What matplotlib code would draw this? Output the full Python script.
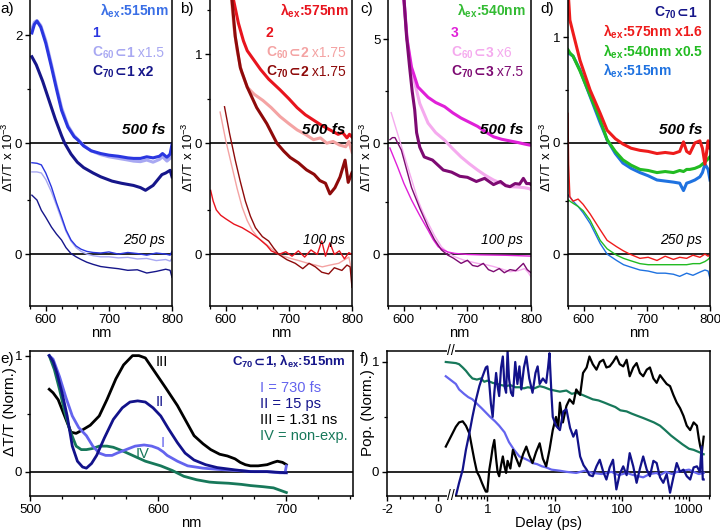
import numpy as np
import matplotlib
matplotlib.use("Agg")
import matplotlib.pyplot as plt
from matplotlib.ticker import FixedLocator, FixedFormatter, MultipleLocator

plt.rcParams["font.family"] = ["Liberation Sans", "DejaVu Sans"]
plt.rcParams["mathtext.default"] = "regular"
plt.rcParams["axes.linewidth"] = 1.1
plt.rcParams["font.size"] = 10

W, H = 720, 532

# ---------------- panel a: lambda_ex 515 nm, compound 1 ----------------
a_fs_nm = [578, 582, 586, 592, 600, 609, 617, 625, 635, 645, 651, 660, 672, 687, 700,
           715, 730, 739, 750, 760, 770, 780, 785, 792, 797, 800]
a_fs_1 = [2.04, 2.2, 2.26, 2.15, 1.85, 1.41, 1.0, 0.61, 0.3, 0.12, 0.06, -0.05, -0.14, -0.19, -0.22,
          -0.24, -0.27, -0.28, -0.28, -0.25, -0.27, -0.24, -0.19, -0.26, -0.2, -0.02]
a_fs_c60 = [2.12, 2.24, 2.27, 2.18, 1.9, 1.46, 1.05, 0.66, 0.33, 0.14, 0.07, -0.04, -0.14, -0.21, -0.25,
            -0.28, -0.31, -0.33, -0.34, -0.31, -0.35, -0.3, -0.25, -0.33, -0.28, -0.1]
a_fs_c70_nm = [578, 585, 595, 605, 615, 625, 630, 640, 650, 660, 675, 687, 705, 720, 739,
               750, 758, 770, 784, 790, 797, 800]
a_fs_c70 = [1.6, 1.45, 1.15, 0.8, 0.45, 0.14, 0.0, -0.2, -0.35, -0.45, -0.55, -0.62, -0.7, -0.74, -0.78,
            -0.82, -0.87, -0.78, -0.58, -0.55, -0.5, -0.62]
a_ps_nm = [578, 586, 593, 600, 609, 617, 625, 632, 640, 648, 656, 665, 675, 687, 700,
           715, 730, 745, 760, 775, 790, 797, 800]
a_ps_1 = [1.69, 1.68, 1.65, 1.5, 1.24, 0.95, 0.69, 0.45, 0.26, 0.15, 0.09, 0.05, 0.03, 0.02, 0.04,
          0.0, 0.03, 0.01, -0.02, 0.02, 0.0, -0.02, 0.05]
a_ps_c60 = [1.52, 1.52, 1.5, 1.38, 1.15, 0.9, 0.64, 0.42, 0.24, 0.12, 0.05, 0.0, -0.03, -0.05, -0.05,
            -0.07, -0.06, -0.09, -0.08, -0.12, -0.1, -0.13, -0.08]
a_ps_c70 = [1.09, 1.0, 0.81, 0.68, 0.5, 0.37, 0.26, 0.12, 0.01, -0.05, -0.1, -0.15, -0.19, -0.23, -0.25,
            -0.27, -0.3, -0.29, -0.35, -0.32, -0.28, -0.3, -0.43]

# ---------------- panel b: lambda_ex 575 nm, compound 2 ----------------
b_fs_2_nm = [612, 620, 628, 634, 643, 655, 668, 686, 700, 713, 726, 739, 752, 765, 778, 785, 792, 796, 800]
b_fs_2 = [1.62, 1.35, 1.15, 1.04, 0.95, 0.83, 0.72, 0.6, 0.5, 0.4, 0.32, 0.26, 0.2, 0.15, 0.1, 0.12, 0.06, 0.1, 0.07]
b_fs_c60_nm = [609, 613, 618, 625, 634, 645, 659, 672, 686, 700, 713, 726, 739, 750, 760, 770, 780, 790, 795, 800]
b_fs_c60 = [1.62, 1.3, 1.04, 0.8, 0.63, 0.55, 0.48, 0.4, 0.3, 0.22, 0.15, 0.1, 0.04, 0.06, 0.0, 0.02, -0.02, -0.04, 0.02, -0.1]
b_fs_c70_nm = [610, 615, 623, 634, 649, 665, 681, 692, 702, 715, 728, 740, 749, 758, 765, 773, 781, 789, 794, 800]
b_fs_c70 = [1.6, 1.2, 0.85, 0.63, 0.4, 0.22, 0.0, -0.09, -0.16, -0.22, -0.3, -0.35, -0.42, -0.45, -0.57, -0.5, -0.38, -0.19, -0.44, -0.33]
b_ps_2_nm = [576, 580, 585, 592, 600, 613, 626, 640, 652, 665, 672, 684, 695, 705, 715, 725, 735,
             745, 752, 758, 765, 772, 780, 788, 795, 800]
b_ps_2 = [0.72, 0.6, 0.5, 0.44, 0.4, 0.34, 0.3, 0.24, 0.18, 0.1, 0.04, 0.0, 0.03, -0.02, 0.04, -0.03, 0.05,
          0.0, 0.15, -0.02, 0.13, 0.0, 0.04, -0.05, 0.02, 0.0]
b_ps_c60_nm = [591, 600, 610, 618, 626, 634, 642, 652, 663, 673, 684, 700, 716, 730, 742, 753, 765, 779, 788, 795, 800]
b_ps_c60 = [1.6, 1.28, 0.98, 0.74, 0.53, 0.38, 0.27, 0.18, 0.12, 0.06, 0.0, -0.04, -0.07, -0.1, -0.12, -0.14, -0.12, -0.1, -0.06, -0.03, -0.2]
b_ps_c70_nm = [598, 606, 615, 623, 631, 639, 647, 658, 668, 676, 684, 697, 710, 722, 732, 742, 752, 763, 772, 784, 792, 797, 800]
b_ps_c70 = [1.66, 1.36, 1.06, 0.82, 0.6, 0.43, 0.3, 0.2, 0.15, 0.07, 0.0, -0.06, -0.1, -0.16, -0.1, -0.14, -0.2, -0.22, -0.15, -0.18, -0.12, -0.14, -0.37]

# ---------------- panel c: lambda_ex 540 nm, compound 3 ----------------
c_fs_3_nm = [600, 605, 612, 622, 638, 650, 664, 677, 690, 703, 716, 728, 741, 754, 767, 780, 790, 798, 800]
c_fs_3 = [7.0, 5.0, 3.65, 2.7, 2.2, 1.95, 1.75, 1.45, 1.2, 1.0, 0.8, 0.55, 0.3, 0.18, 0.1, 0.02, -0.05, -0.1, -0.1]
c_fs_c60_nm = [599, 605, 610, 617, 625, 638, 650, 664, 677, 690, 703, 716, 728, 741, 754, 767, 780, 790, 798, 800]
c_fs_c60 = [7.0, 5.0, 3.8, 2.9, 1.9, 0.96, 0.5, 0.14, -0.28, -0.67, -1.0, -1.3, -1.55, -1.78, -1.95, -2.1, -2.12, -2.15, -2.2, -2.25]
c_fs_c70_nm = [600, 604, 609, 613, 617, 620, 625, 632, 645, 662, 675, 688, 700, 714, 727, 741, 752, 760, 767, 775, 782, 788, 793, 798, 800]
c_fs_c70 = [7.0, 5.2, 3.65, 2.5, 1.6, 0.5, -0.2, -0.67, -0.82, -1.3, -1.4, -1.6, -1.65, -1.85, -1.7, -2.0, -1.85, -2.05, -2.1, -1.95, -1.98, -1.7, -1.95, -1.95, -2.0]
c_ps_3_nm = [578, 590, 600, 612, 625, 638, 646, 654, 662, 669, 680, 700, 720, 740, 760, 780, 800]
c_ps_3 = [5.1, 4.2, 3.4, 2.6, 1.85, 1.15, 0.7, 0.35, 0.2, 0.1, 0.03, -0.02, -0.04, -0.05, -0.06, -0.08, -0.1]
c_ps_c60_nm = [580, 590, 601, 612, 622, 630, 638, 648, 659, 670, 680, 695, 716, 730, 741, 754, 767, 780, 790, 796, 800]
c_ps_c60 = [6.8, 5.8, 4.7, 3.6, 2.6, 2.0, 1.5, 0.9, 0.35, 0.05, -0.13, -0.3, -0.45, -0.52, -0.6, -0.72, -0.85, -0.8, -0.7, -0.9, -1.1]
c_ps_c70_nm = [578, 582, 586, 596, 604, 612, 625, 638, 648, 659, 669, 678, 690, 700, 708, 716, 725, 733, 741, 750, 758, 767, 776, 788, 794, 800]
c_ps_c70 = [5.5, 5.6, 5.6, 5.0, 4.1, 3.2, 2.2, 1.3, 0.7, 0.2, -0.05, -0.2, -0.45, -0.3, -0.55, -0.6, -0.45, -0.75, -0.85, -0.7, -0.9, -0.75, -0.8, -0.45, -0.75, -0.9]

# ---------------- panel d: C70 in 1 at three excitation wavelengths ----------------
d_fs_nm = [575, 578, 583, 594, 610, 626, 637, 650, 662, 675, 689, 702, 716, 729, 742, 752, 758, 763, 768, 776, 784, 788, 792, 797, 800]
d_fs_575 = [1.45, 1.16, 1.04, 0.78, 0.5, 0.28, 0.12, 0.04, -0.01, -0.05, -0.07, -0.08, -0.1, -0.09, -0.1, -0.08, 0.01, -0.08, -0.1, 0.0, 0.02, -0.05, -0.2, 0.02, -0.05]
d_fs_540 = [0.88, 0.85, 0.82, 0.68, 0.45, 0.22, 0.03, -0.08, -0.16, -0.21, -0.25, -0.26, -0.28, -0.27, -0.28, -0.26, -0.27, -0.25, -0.25, -0.24, -0.22, -0.2, -0.18, -0.15, -0.13]
d_fs_515 = [0.85, 0.84, 0.82, 0.69, 0.44, 0.19, 0.03, -0.1, -0.19, -0.24, -0.28, -0.31, -0.35, -0.36, -0.37, -0.38, -0.45, -0.38, -0.37, -0.35, -0.32, -0.28, -0.2, -0.25, -0.35]
d_ps_nm = [575, 576, 578, 583, 591, 599, 610, 626, 637, 652, 663, 673, 689, 702, 716, 729, 742, 752, 763, 773, 784, 792, 797, 800]
d_ps_575 = [1.33, 0.85, 0.54, 0.5, 0.52, 0.47, 0.38, 0.23, 0.13, 0.07, 0.03, 0.0, -0.04, -0.03, -0.06, -0.02, -0.05, -0.03, -0.04, -0.01, -0.03, 0.0, -0.02, 0.0]
d_ps_540 = [0.51, 0.51, 0.5, 0.48, 0.45, 0.41, 0.32, 0.13, 0.05, -0.01, -0.04, -0.06, -0.09, -0.1, -0.1, -0.1, -0.1, -0.1, -0.1, -0.09, -0.09, -0.07, -0.05, -0.03]
d_ps_515 = [0.56, 0.55, 0.54, 0.5, 0.45, 0.39, 0.29, 0.1, 0.0, -0.06, -0.1, -0.12, -0.15, -0.16, -0.18, -0.18, -0.19, -0.21, -0.18, -0.2, -0.17, -0.15, -0.16, -0.23]

# ---------------- panel e: decay-associated spectra ----------------
e_I_nm = [515, 518, 523, 528, 533, 538, 544, 549, 554, 559, 564, 568, 575, 582, 589,
          595, 600, 604, 607, 615, 623, 635, 646, 660, 675, 685, 695, 699, 700]
e_I = [1.0, 0.97, 0.82, 0.64, 0.48, 0.38, 0.31, 0.22, 0.16, 0.14, 0.14, 0.16, 0.19, 0.22, 0.23,
       0.22, 0.2, 0.17, 0.14, 0.09, 0.05, 0.03, 0.02, 0.01, 0.0, 0.0, -0.01, -0.01, 0.05]
e_II_nm = [515, 518, 521, 525, 529, 533, 537, 541, 544, 548, 552, 558, 565, 572, 578,
           584, 590, 596, 602, 608, 615, 621, 628, 637, 646, 660, 672, 685, 700]
e_II = [1.0, 0.95, 0.85, 0.68, 0.48, 0.22, 0.09, 0.04, 0.03, 0.07, 0.14, 0.29, 0.45, 0.55, 0.6,
        0.61, 0.6, 0.55, 0.48, 0.37, 0.25, 0.16, 0.1, 0.06, 0.035, 0.015, 0.0, 0.0, -0.01]
e_III_nm = [515, 518, 522, 527, 532, 536, 541, 547, 554, 560, 567, 573, 580, 585, 590, 598, 606,
            615, 622, 628, 635, 641, 648, 654, 660, 664, 668, 672, 678, 685, 690, 693, 697, 700]
e_III = [0.71, 0.68, 0.62, 0.48, 0.34, 0.33, 0.36, 0.4, 0.48, 0.62, 0.8, 0.92, 1.0, 1.0, 0.98, 0.85, 0.72,
         0.57, 0.43, 0.31, 0.24, 0.19, 0.15, 0.135, 0.11, 0.08, 0.06, 0.05, 0.05, 0.06, 0.08, 0.09, 0.08, 0.06]
e_IV_nm = [515, 519, 523, 527, 531, 536, 540, 544, 549, 554, 560, 565, 572, 581, 590,
           602, 611, 620, 630, 640, 646, 655, 665, 672, 682, 690, 695, 700]
e_IV = [1.0, 0.88, 0.71, 0.52, 0.36, 0.22, 0.19, 0.19, 0.2, 0.22, 0.22, 0.21, 0.18, 0.135, 0.09,
        0.05, 0.01, -0.04, -0.07, -0.09, -0.095, -0.1, -0.11, -0.12, -0.13, -0.14, -0.16, -0.18]

# ---------------- panel f: populations vs delay ----------------
f_I_t = [0.30, 0.34, 0.38, 0.45, 0.52, 0.60, 0.70, 0.82, 0.95, 1.1,
         1.3, 1.5, 1.8, 2.1, 2.5, 3.0, 3.6, 4.2, 4.7, 5.5,
         6.5, 7.5, 9, 12, 15, 21, 28, 37, 50, 70,
         90, 118, 150, 208, 260, 330, 370, 450, 560, 660,
         800, 1000, 1170, 1400, 1650]
f_I = [0.87, 0.8, 0.75, 0.71, 0.68, 0.66, 0.62, 0.58, 0.54, 0.5,
       0.46, 0.42, 0.36, 0.27, 0.2, 0.14, 0.12, 0.1, 0.08, 0.07,
       0.05, 0.04, 0.02, 0.01, 0.0, -0.01, 0.01, -0.01, -0.02, 0.0,
       -0.03, -0.01, -0.03, -0.05, -0.02, -0.01, -0.03, 0.0, -0.02, 0.0,
       0.01, 0.02, 0.0, -0.02, -0.01]
f_II_t = [0.34, 0.38, 0.43, 0.48, 0.54, 0.6, 0.68, 0.76, 0.85, 0.95,
          1.0, 1.07, 1.13, 1.2, 1.27, 1.35, 1.42, 1.5, 1.6, 1.7,
          1.8, 1.9, 2.0, 2.1, 2.25, 2.4, 2.6, 2.8, 3.0, 3.2,
          3.5, 3.8, 4.2, 4.7, 5.2, 5.6, 6.0, 6.7, 7.5, 8.0,
          8.4, 9.0, 9.4, 10.5, 12, 13.5, 15, 17, 19, 21,
          24, 27, 30, 33, 37, 42, 47, 53, 59, 66,
          74, 83, 93, 105, 118, 131, 148, 166, 186, 208,
          235, 262, 295, 330, 370, 414, 465, 522, 585, 656,
          735, 826, 925, 1040, 1170, 1310, 1450, 1540, 1600, 1650]
f_II = [-0.22, -0.1, 0.02, 0.2, 0.35, 0.5, 0.66, 0.78, 0.87, 0.95,
        0.96, 0.8, 0.62, 0.5, 0.72, 0.9, 0.78, 0.69, 0.95, 1.05,
        0.78, 0.72, 1.1, 0.85, 0.72, 0.69, 1.0, 0.8, 0.96, 0.75,
        0.95, 1.05, 0.85, 0.72, 0.9, 0.96, 0.8, 0.85, 0.81, 0.95,
        1.08, 0.7, 0.5, 0.42, 0.38, 0.55, 0.57, 0.4, 0.32, 0.38,
        0.14, 0.06, 0.02, -0.03, -0.04, 0.05, 0.11, 0.0, -0.07, 0.04,
        0.11, -0.16, -0.02, 0.05, -0.03, 0.17, 0.05, -0.1, 0.03, 0.14,
        0.02, -0.04, 0.1, 0.08, -0.05, -0.1, -0.02, -0.19, -0.05, 0.08,
        0.0, 0.02, -0.04, -0.07, 0.04, 0.05, 0.0, 0.23, -0.07, -0.07]
f_III_t = [0.3, 0.34, 0.38, 0.43, 0.48, 0.54, 0.6, 0.64, 0.7, 0.76,
           0.83, 0.9, 0.95, 1.0, 1.07, 1.13, 1.2, 1.27, 1.35, 1.42,
           1.5, 1.6, 1.7, 1.8, 1.9, 2.0, 2.2, 2.4, 2.7, 3.0,
           3.4, 3.8, 4.2, 4.7, 5.3, 6.0, 6.7, 7.5, 8.4, 9.4,
           10.5, 11.3, 12, 13.3, 15, 16.7, 19, 21, 24, 26.5,
           30, 33, 37, 42, 47, 53, 59, 66, 74, 83,
           93, 105, 118, 131, 148, 166, 186, 208, 235, 262,
           295, 330, 370, 414, 465, 522, 585, 656, 735, 826,
           925, 1040, 1170, 1310, 1400, 1470, 1550, 1650]
f_III = [0.23, 0.41, 0.45, 0.46, 0.42, 0.35, 0.2, 0.11, 0.0, -0.04,
         -0.1, -0.15, -0.18, -0.18, 0.02, 0.11, 0.22, 0.29, 0.12, 0.0,
         -0.04, 0.06, 0.14, 0.05, -0.01, 0.1, 0.03, 0.2, 0.12, 0.05,
         0.16, 0.23, 0.15, 0.08, 0.18, 0.26, 0.12, 0.05, 0.2, 0.38,
         0.5, 0.4, 0.63, 0.45, 0.6, 0.66, 0.62, 0.75, 0.7, 0.9,
         0.95, 1.05, 0.98, 0.93, 1.0, 1.02, 0.95, 0.96, 1.0, 1.05,
         0.98, 0.96, 1.02, 0.87, 0.95, 0.99, 0.9, 0.87, 0.93, 0.95,
         0.85, 0.81, 0.88, 0.84, 0.8, 0.78, 0.7, 0.63, 0.58, 0.51,
         0.42, 0.38, 0.45, 0.42, 0.3, 0.23, 0.18, 0.32]
f_IV_t = [0.3, 0.34, 0.38, 0.43, 0.48, 0.54, 0.6, 0.7, 0.8, 0.9,
          1.0, 1.2, 1.4, 1.6, 1.9, 2.2, 2.6, 3.0, 3.5, 4.0,
          5.0, 6.0, 7.0, 8.5, 10, 12, 15, 18, 21, 26,
          31, 37, 45, 55, 66, 80, 95, 118, 140, 170,
          208, 250, 300, 370, 440, 540, 656, 800, 1000, 1170,
          1400, 1650]
f_IV = [1.0, 0.99, 0.98, 0.95, 0.92, 0.88, 0.85, 0.84, 0.85, 0.82,
        0.83, 0.81, 0.8, 0.79, 0.78, 0.79, 0.77, 0.77, 0.76, 0.77,
        0.76, 0.78, 0.77, 0.75, 0.74, 0.73, 0.74, 0.71, 0.72, 0.7,
        0.68, 0.66, 0.65, 0.63, 0.61, 0.59, 0.56, 0.55, 0.53, 0.51,
        0.49, 0.47, 0.45, 0.42, 0.38, 0.33, 0.29, 0.25, 0.21, 0.2,
        0.18, 0.16]

# colours
BLUE1, LAV, NAVY = "#2a36e0", "#a8a8f2", "#16168a"
RED2, PINK2, DRED2 = "#e8141e", "#f4a3a3", "#8e0a0a"
MAG3, LPINK3, PURP3 = "#e020d8", "#f5aaee", "#7d0a72"
RED_D, GREEN_D, BLUE_D = "#ee1c1c", "#22bb22", "#1f72e0"
E_I, E_II, E_III, E_IV = "#6464ee", "#12128a", "black", "#17785a"

fig = plt.figure(figsize=(W / 100, H / 100), dpi=100)


def add_axes(x0, x1, y0, y1):
    return fig.add_axes([x0 / W, 1 - y1 / H, (x1 - x0) / W, (y1 - y0) / H])


def ftext(x, y, s, **kw):
    kw.setdefault("va", "baseline")
    return fig.text(x / W, 1 - y / H, s, **kw)


def chain(x, y, parts, size=10):
    # parts: (text, colour, weight) drawn one after another on one baseline
    r = fig.canvas.get_renderer()
    for s, c, w in parts:
        t = ftext(x, y, s, color=c, weight=w, size=size)
        x += t.get_window_extent(r).width


def style_axes(ax):
    ax.tick_params(direction="out", length=3.5, width=1, labelsize=9.5, pad=2)
    ax.tick_params(which="minor", direction="out", length=2, width=0.9)


def spectra(ax, offset, ylim, top_tick, minors):
    ax.set_xlim(575, 800)
    ax.set_ylim(*ylim)
    ax.axhline(0, color="black", lw=1.2)
    ax.axhline(-offset, color="black", lw=1.2)
    ax.xaxis.set_major_locator(FixedLocator([600, 700, 800]))
    ax.xaxis.set_minor_locator(MultipleLocator(25))
    ax.yaxis.set_major_locator(FixedLocator([-offset, 0, top_tick]))
    ax.yaxis.set_major_formatter(FixedFormatter(["0", "0", f"{top_tick:g}"]))
    ax.yaxis.set_minor_locator(FixedLocator(minors))
    ax.spines["top"].set_visible(False)
    ax.set_xlabel("nm", size=10.5, labelpad=0)
    style_axes(ax)


THICK, THIN = 2.2, 1.0

# ---- a ----
ax = add_axes(30, 172, 0, 306)
off = 2.05
spectra(ax, off, (-3.01, 2.65), 2, [1, 1 - off])
ax.plot(a_fs_nm, a_fs_c60, color=LAV, lw=THICK)
ax.plot(a_fs_nm, a_fs_1, color=BLUE1, lw=THICK)
ax.plot(a_fs_c70_nm, a_fs_c70, color=NAVY, lw=THICK)
ax.plot(a_ps_nm, np.array(a_ps_c60) - off, color=LAV, lw=THIN)
ax.plot(a_ps_nm, np.array(a_ps_1) - off, color=BLUE1, lw=THIN)
ax.plot(a_ps_nm, np.array(a_ps_c70) - off, color=NAVY, lw=THIN)

# ---- b ----
ax = add_axes(210, 352, 0, 306)
off = 1.25
spectra(ax, off, (-1.83, 1.61), 1, [1.5, 0.5, 0.5 - off])
ax.plot(b_fs_c60_nm, b_fs_c60, color=PINK2, lw=THICK)
ax.plot(b_fs_2_nm, b_fs_2, color=RED2, lw=THICK)
ax.plot(b_fs_c70_nm, b_fs_c70, color=DRED2, lw=THICK)
ax.plot(b_ps_c60_nm, np.array(b_ps_c60) - off, color=PINK2, lw=THIN)
ax.plot(b_ps_2_nm, np.array(b_ps_2) - off, color=RED2, lw=THIN)
ax.plot(b_ps_c70_nm, np.array(b_ps_c70) - off, color=DRED2, lw=THIN)

# ---- c ----
ax = add_axes(388, 531, 0, 306)
off = 5.34
spectra(ax, off, (-7.84, 6.88), 5, [2.5, 2.5 - off])
ax.plot(c_fs_c60_nm, c_fs_c60, color=LPINK3, lw=THICK)
ax.plot(c_fs_3_nm, c_fs_3, color=MAG3, lw=THICK)
ax.plot(c_fs_c70_nm, c_fs_c70, color=PURP3, lw=THICK)
ax.plot(c_ps_c60_nm, np.array(c_ps_c60) - off, color=LPINK3, lw=THIN)
ax.plot(c_ps_3_nm, np.array(c_ps_3) - off, color=MAG3, lw=THIN)
ax.plot(c_ps_c70_nm, np.array(c_ps_c70) - off, color=PURP3, lw=THIN)

# ---- d ----
ax = add_axes(568, 710, 0, 306)
off = 1.05
spectra(ax, off, (-1.54, 1.35), 1, [0.5, 0.5 - off])
ax.plot(d_fs_nm, d_fs_515, color=BLUE_D, lw=THICK)
ax.plot(d_fs_nm, d_fs_540, color=GREEN_D, lw=THICK)
ax.plot(d_fs_nm, d_fs_575, color=RED_D, lw=THICK)
ax.plot(d_ps_nm, np.array(d_ps_515) - off, color=BLUE_D, lw=THIN)
ax.plot(d_ps_nm, np.array(d_ps_540) - off, color=GREEN_D, lw=THIN)
ax.plot(d_ps_nm, np.array(d_ps_575) - off, color=RED_D, lw=THIN)

# ---- e ----
ax = add_axes(30, 353, 351, 496)
ax.set_xlim(500, 752)
ax.set_ylim(-0.21, 1.04)
ax.axhline(0, color="black", lw=1.2)
ax.plot(e_III_nm, e_III, color=E_III, lw=2)
ax.plot(e_IV_nm, e_IV, color=E_IV, lw=2)
ax.plot(e_I_nm, e_I, color=E_I, lw=2)
ax.plot(e_II_nm, e_II, color=E_II, lw=2)
ax.xaxis.set_major_locator(FixedLocator([500, 600, 700]))
ax.xaxis.set_minor_locator(MultipleLocator(25))
ax.yaxis.set_major_locator(FixedLocator([0, 1]))
ax.yaxis.set_minor_locator(FixedLocator([0.5]))
ax.set_xlabel("nm", size=10.5, labelpad=0)
style_axes(ax)

# ---- f: linear up to the break, log after it ----
BRK, GAP, DEC = 0.3, 0.25, 2.63


def fwd(t):
    t = np.asarray(t, float)
    return np.where(t <= BRK, t, BRK + GAP + DEC * np.log10(np.maximum(t, BRK) / BRK))


def inv(u):
    u = np.asarray(u, float)
    lg = np.clip((u - BRK - GAP) / DEC, -5, 10)
    return np.where(u <= BRK, u, np.where(u < BRK + GAP, BRK, BRK * 10 ** lg))


ax = add_axes(387, 710, 351, 496)
ax.set_xscale("function", functions=(fwd, inv))
ax.set_xlim(-2, 2050)
ax.set_ylim(-0.22, 1.1)
ax.axhline(0, color="black", lw=1.2)
ax.plot(f_IV_t, f_IV, color=E_IV, lw=1.6)
ax.plot(f_I_t, f_I, color=E_I, lw=1.6)
ax.plot(f_III_t, f_III, color="black", lw=1.6)
ax.plot(f_II_t, f_II, color=E_II, lw=1.6)
ax.xaxis.set_major_locator(FixedLocator([-2, 0, 1, 10, 100, 1000]))
ax.xaxis.set_major_formatter(FixedFormatter(["-2", "0", "1", "10", "100", "1000"]))
fminor = [-1.5, -1, -0.5] + [k * 10.0 ** d for d in range(-1, 4) for k in range(2, 10)
                              if BRK < k * 10.0 ** d < 2050]
ax.xaxis.set_minor_locator(FixedLocator(fminor))
ax.yaxis.set_major_locator(FixedLocator([0, 1]))
ax.yaxis.set_minor_locator(FixedLocator([0.5]))
ax.set_xlabel("Delay (ps)", size=10.5, labelpad=0)
style_axes(ax)
for yy in (0, 1):
    ax.text(0.198, yy, "//", transform=ax.transAxes, ha="center", va="center", size=10,
            clip_on=False, bbox=dict(facecolor="white", edgecolor="none", pad=0.2))

# ---------------- text ----------------
for x, y, s in [(0, 13, "a)"), (180, 13, "b)"), (360, 13, "c)"), (540, 13, "d)"),
                (0, 363, "e)"), (360, 363, "f)")]:
    ftext(x, y, s, size=11)

ylab = "ΔT/T x 10$^{-3}$"
for x in (8.5, 188.5, 366.5, 546.5):
    fig.text(x / W, 1 - 157 / H, ylab, rotation=90, ha="center", va="center", size=9.5)
fig.text(10 / W, 1 - 412 / H, "ΔT/T (Norm.)", rotation=90, ha="center", va="center", size=11)
fig.text(368 / W, 1 - 413 / H, "Pop. (Norm.)", rotation=90, ha="center", va="center", size=11)

B, N = "bold", "normal"
SUB = "⊂"
# a
chain(100, 16, [("λ$_{ex}$:515nm", "#3a6fe6", B)])
chain(92, 37, [("1", BLUE1, B)])
chain(92, 57, [("C$_{60}$", LAV, B), (SUB, LAV, B), ("1", LAV, B), (" x1.5", LAV, N)])
chain(92, 76, [("C$_{70}$", NAVY, B), (SUB, NAVY, B), ("1", NAVY, B), (" x2", NAVY, B)])
# b
chain(280, 16, [("λ$_{ex}$:575nm", RED2, B)])
chain(266, 37, [("2", RED2, B)])
chain(266, 57, [("C$_{60}$", PINK2, B), (SUB, PINK2, B), ("2", PINK2, B), (" x1.75", PINK2, N)])
chain(266, 76, [("C$_{70}$", DRED2, B), (SUB, DRED2, B), ("2", DRED2, B), (" x1.75", DRED2, N)])
# c
chain(457, 16, [("λ$_{ex}$:540nm", "#33bb33", B)])
chain(451, 37, [("3", MAG3, B)])
chain(451, 57, [("C$_{60}$", LPINK3, B), (SUB, LPINK3, B), ("3", LPINK3, B), (" x6", LPINK3, N)])
chain(451, 76, [("C$_{70}$", PURP3, B), (SUB, PURP3, B), ("3", PURP3, B), (" x7.5", PURP3, N)])
# d
chain(654, 17, [("C$_{70}$", NAVY, B), (SUB, NAVY, B), ("1", NAVY, B)])
chain(603, 37, [("λ$_{ex}$:575nm x1.6", RED_D, B)])
chain(603, 57, [("λ$_{ex}$:540nm x0.5", GREEN_D, B)])
chain(603, 76, [("λ$_{ex}$:515nm", BLUE_D, B)])

for xr, lab in [(165, "250 ps"), (345, "100 ps"), (523, "100 ps"), (702, "250 ps")]:
    ftext(xr, 134, "500 fs", ha="right", weight="bold", style="italic", size=11)
    ftext(xr, 244, lab, ha="right", style="italic", size=10)

# e labels
ftext(162, 366, "III", ha="center", color=E_III, size=10.5)
ftext(160, 406, "II", ha="center", color=E_II, size=10.5)
ftext(163, 447, "I", ha="center", color=E_I, size=10.5)
ftext(143, 458, "IV", ha="center", color=E_IV, size=10.5)
chain(232, 366, [("C$_{70}$", NAVY, B), (SUB, NAVY, B), ("1, λ$_{ex}$:515nm", NAVY, B)], size=9.5)
ftext(260, 392, "I = 730 fs", color=E_I, size=10.5)
ftext(260, 408, "II = 15 ps", color=E_II, size=10.5)
ftext(260, 424, "III = 1.31 ns", color=E_III, size=10.5)
ftext(260, 440, "IV = non-exp.", color=E_IV, size=10.5)

fig.savefig("out.png", dpi=100)
